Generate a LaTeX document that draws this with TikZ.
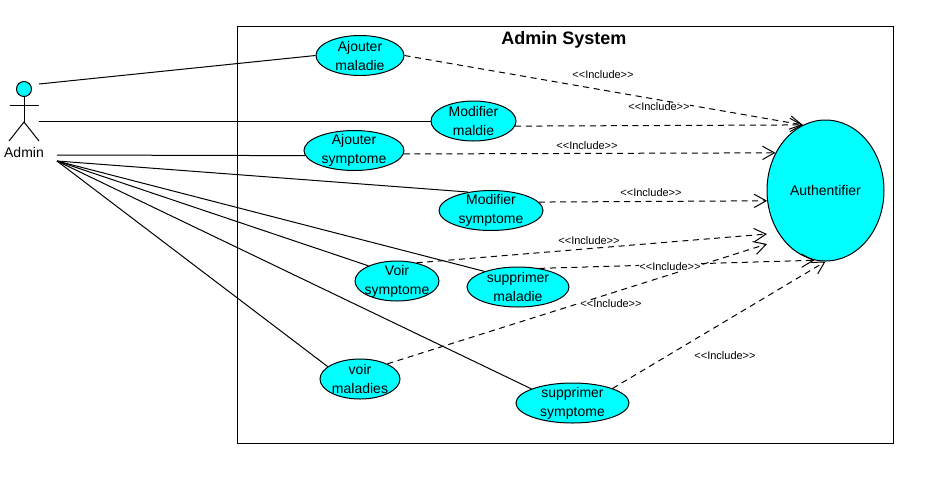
\documentclass[tikz,border=0pt]{standalone}
\usepackage{fontspec}
\setmainfont{Liberation Sans}
\usetikzlibrary{arrows.meta,shapes.geometric}
\definecolor{ucCyan}{HTML}{00FFFF}
\begin{document}
\begin{tikzpicture}[
    x=0.75pt, y=-0.75pt,
    line width=0.75pt,
    usecase/.style={ellipse, draw, fill=ucCyan, inner sep=0pt, minimum height=30pt},
    uctext/.style={align=center, inner sep=0pt, font=\fontsize{10.5}{14.25}\selectfont},
    include/.style={draw, dashed, dash pattern=on 4.5pt off 3.5pt, -{Straight Barb[length=9pt,width=10pt]}},
    stereo/.style={fill=white, inner sep=0pt, font=\fontsize{8.25}{10}\selectfont}
]
\useasboundingbox (0,0) rectangle (932,476);

% System boundary
\node[draw, minimum width=492pt, minimum height=312.75pt, inner sep=0pt] (system) at (565,234.5) {};
\node[font=\bfseries\fontsize{13.5}{16}\selectfont, inner sep=0pt] (systemTitle) at (564,40) {Admin System};

% Actor
\node[circle, draw, fill=ucCyan, minimum size=11.25pt, inner sep=0pt] (adminHead) at (24,89) {};
\coordinate (adminHip) at (24,122);
\coordinate (adminArmL) at (9.5,105);
\coordinate (adminArmR) at (39,105);
\coordinate (adminLegL) at (9,141);
\coordinate (adminLegR) at (39,141);
\node[font=\fontsize{10.5}{12}\selectfont, inner sep=0pt] (adminLabel) at (24,152) {Admin};
\draw (adminHead) -- (adminHip);
\draw (adminArmL) -- (adminArmR);
\draw (adminLegL) -- (adminHip) -- (adminLegR);

% Free ends of the associations
\coordinate (adminTop) at (39,84);
\coordinate (adminMid) at (39,121);
\coordinate (adminSym) at (57,155);
\coordinate (adminFan) at (57,161);

% Use cases
\node[usecase, minimum width=66pt, label={[uctext]center:Ajouter\\maladie}] (ajouterMaladie) at (360,55.5) {};
\node[usecase, minimum width=63.75pt, label={[uctext]center:Modifier\\maldie}] (modifierMaldie) at (473.5,121) {};
\node[usecase, minimum width=75pt, label={[uctext]center:Ajouter\\symptome}] (ajouterSymptome) at (354,150.5) {};
\node[usecase, minimum width=78pt, label={[uctext]center:Modifier\\symptome}] (modifierSymptome) at (491,210.5) {};
\node[usecase, minimum width=63pt, label={[uctext]center:Voir\\symptome}] (voirSymptome) at (397,281) {};
\node[usecase, minimum width=76.5pt, label={[uctext]center:supprimer\\maladie}] (supprimerMaladie) at (518,287) {};
\node[usecase, minimum width=60pt, label={[uctext]center:voir\\maladies}] (voirMaladies) at (360,379) {};
\node[usecase, minimum width=84.75pt, label={[uctext]center:supprimer\\symptome}] (supprimerSymptome) at (572.5,403) {};
\node[usecase, minimum width=87.75pt, minimum height=105.75pt, label={[uctext]center:Authentifier}] (auth) at (825.5,190.5) {};

% Associations
\draw (adminTop) -- (ajouterMaladie.west);
\draw (adminMid) -- (modifierMaldie.west);
\draw (adminSym) -- (ajouterSymptome.186);
\foreach \uc/\ang in {modifierSymptome/141, supprimerMaladie/155, voirSymptome/152, voirMaladies/159, supprimerSymptome/161}
    \draw (adminFan) -- (\uc.\ang);

% Free ends of the two includes that stop short
\coordinate (authVoirS) at (767,234);
\coordinate (authVoirM) at (767,244);

% Includes
\draw[include] (ajouterMaladie.east) -- (auth.109);
\draw[include] (modifierMaldie.-7) -- (auth.109);
\draw[include] (ajouterSymptome.-4) -- (auth.143);
\draw[include] (modifierSymptome.10) -- (auth.190);
\draw[include] (voirSymptome.43) -- (authVoirS);
\draw[include] (supprimerMaladie.41) -- (auth.261);
\draw[include] (voirMaladies.29) -- (authVoirM);
\draw[include] (supprimerSymptome.20) -- (auth.270);

% Labels
\node[stereo] (incA) at (603,75) {<{}<Include>{}>};
\node[stereo] (incB) at (659,107) {<{}<Include>{}>};
\node[stereo] (incC) at (587,146) {<{}<Include>{}>};
\node[stereo] (incD) at (651,193) {<{}<Include>{}>};
\node[stereo] (incE) at (589,241) {<{}<Include>{}>};
\node[stereo] (incF) at (670,267) {<{}<Include>{}>};
\node[stereo] (incG) at (611,304) {<{}<Include>{}>};
\node[stereo] (incH) at (725,356) {<{}<Include>{}>};

\end{tikzpicture}
\end{document}
